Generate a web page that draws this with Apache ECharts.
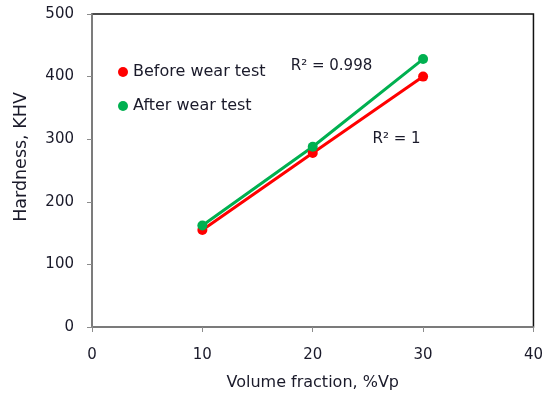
<!DOCTYPE html>
<html><head><meta charset="utf-8">
<script src="https://cdn.jsdelivr.net/npm/echarts@6/dist/echarts.min.js"></script>
<style>html,body{margin:0;padding:0;background:#fff}#c{width:546px;height:396px}</style>
</head><body><div id="c"></div>
<script>
const xValues = [10, 20, 30];
const beforeWear = [155, 278, 400];
const afterWear = [162, 288, 428];
const seriesNames = ['Before wear test', 'After wear test'];
const r2Labels = ['R² = 1', 'R² = 0.998'];
const xTicks = [0, 10, 20, 30, 40];
const yTicks = [0, 100, 200, 300, 400, 500];

const font = 'DejaVu Sans, sans-serif';
const txt = '#1a1a2a';
const chart = echarts.init(document.getElementById('c'), null, {renderer: 'canvas'});
const mk = (ys) => xValues.map((x, i) => [x, ys[i]]);
chart.setOption({
  animation: false,
  backgroundColor: '#fff',
  grid: {left: 92, top: 14, right: 11, bottom: 68, show: true, borderColor: '#111', borderWidth: 1.5},
  legend: {
    left: 113, top: 59, orient: 'vertical', itemGap: 18, itemWidth: 10, itemHeight: 10,
    icon: 'circle', data: seriesNames,
    textStyle: {fontFamily: font, fontSize: 16, color: txt, padding: [0, 0, 0, 0]}
  },
  xAxis: {
    type: 'value', min: 0, max: 40, interval: 10,
    name: 'Volume fraction, %Vp', nameLocation: 'middle', nameGap: 48,
    nameTextStyle: {fontFamily: font, fontSize: 16, color: txt},
    axisLine: {lineStyle: {color: '#8c8c8c', width: 1.5}},
    axisTick: {show: true, length: 5, lineStyle: {color: '#8c8c8c'}},
    axisLabel: {fontFamily: font, fontSize: 15, color: txt, margin: 21},
    splitLine: {show: false}
  },
  yAxis: {
    type: 'value', min: 0, max: 500, interval: 100,
    name: 'Hardness, KHV', nameLocation: 'middle', nameGap: 62,
    nameTextStyle: {fontFamily: font, fontSize: 17.5, color: txt, padding: [0, 0, 0, 27]},
    axisLine: {show: true, lineStyle: {color: '#8c8c8c', width: 1.5}},
    axisTick: {show: true, length: 5, lineStyle: {color: '#8c8c8c'}},
    axisLabel: {fontFamily: font, fontSize: 15, color: txt, margin: 18},
    splitLine: {show: false}
  },
  series: [
    {
      name: seriesNames[0], type: 'line', data: mk(beforeWear),
      symbol: 'circle', symbolSize: 10, color: '#ff0000',
      lineStyle: {width: 3, color: '#ff0000'}, itemStyle: {color: '#ff0000'},
      markPoint: {
        symbol: 'rect', symbolSize: 1, itemStyle: {color: 'rgba(0,0,0,0)'},
        label: {show: true, formatter: r2Labels[0], fontFamily: font, fontSize: 15, color: txt, position: 'inside'},
        data: [{coord: [27.6, 300]}]
      }
    },
    {
      name: seriesNames[1], type: 'line', data: mk(afterWear),
      symbol: 'circle', symbolSize: 10, color: '#00b050',
      lineStyle: {width: 3, color: '#00b050'}, itemStyle: {color: '#00b050'},
      markPoint: {
        symbol: 'rect', symbolSize: 1, itemStyle: {color: 'rgba(0,0,0,0)'},
        label: {show: true, formatter: r2Labels[1], fontFamily: font, fontSize: 15, color: txt, position: 'inside'},
        data: [{coord: [21.7, 416]}]
      }
    }
  ]
});
</script></body></html>
